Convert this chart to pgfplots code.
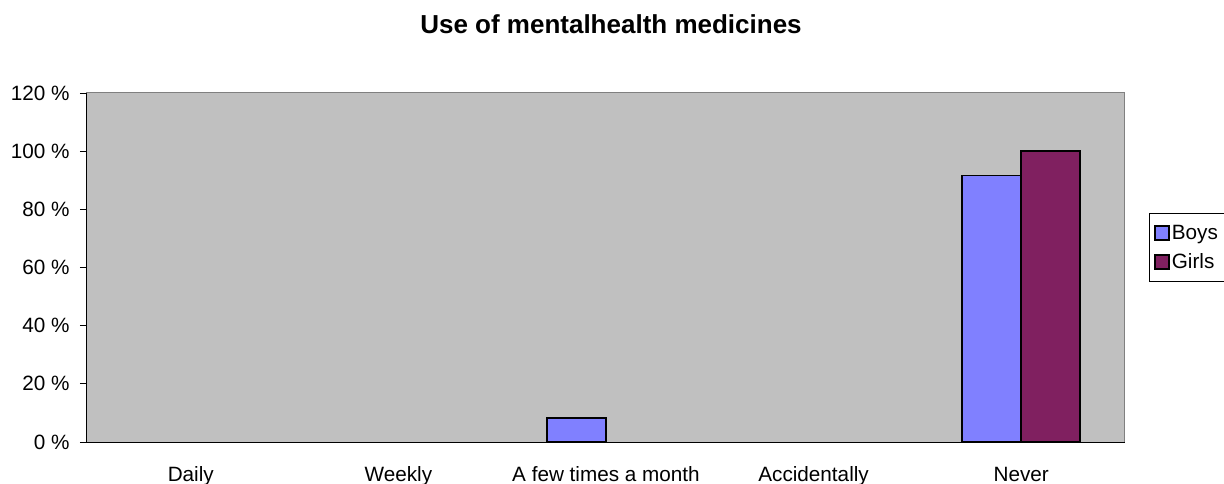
\documentclass[border=0pt]{standalone}
\usepackage{pgfplots}
\pgfplotsset{compat=1.18}
\usepackage{fontspec}
\setmainfont{Liberation Sans}
\definecolor{plotbg}{RGB}{192,192,192}
\definecolor{frame}{RGB}{128,128,128}
\definecolor{boys}{RGB}{128,128,255}
\definecolor{girls}{RGB}{128,32,96}
\begin{document}
\begin{tikzpicture}[x=1pt,y=1pt]
\useasboundingbox (0,0) rectangle (1224,483);
\node[font=\fontsize{26}{30}\selectfont\bfseries, anchor=base] at (611,449) {Use of mentalhealth medicines};
\begin{axis}[
  at={(87pt,41pt)}, anchor=south west,
  scale only axis, width=1038pt, height=349pt,
  xmin=-0.5, xmax=4.5, ymin=0, ymax=120,
  ybar=0pt, bar width=59pt,
  axis background/.style={fill=plotbg, draw=frame, line width=1pt},
  axis lines*=left,
  axis line style={black, line width=1pt, -},
  xtick={0,1,2,3,4},
  xticklabels={Daily,Weekly,A few times a month,Accidentally,Never},
  major x tick style={draw=none},
  extra x ticks={-0.5,0.5,1.5,2.5,3.5,4.5},
  extra x tick labels={},
  extra x tick style={major tick length=8pt, tick align=outside, tick style={black, line width=0.8pt}},
  xticklabel style={anchor=base, yshift=-32pt},
  ytick={0,20,40,60,80,100,120},
  yticklabel={\pgfmathprintnumber{\tick}\ \%},
  yticklabel style={xshift=-7pt},
  y tick style={black, line width=0.8pt},
  tick align=outside, major tick length=7pt,
  ticklabel style={font=\fontsize{20.7}{24}\selectfont},
  /pgf/number format/assume math mode=true,
  legend style={at={(1.0231,0.656)}, anchor=north west, draw=black, line width=0.8pt,
    font=\fontsize{20.7}{24}\selectfont, row sep=9pt, inner xsep=5pt, inner ysep=9.5pt},
  legend cell align=left,
  legend image code/.code={\draw[#1, line width=1.5pt] (0pt,-7pt) rectangle (14pt,7pt);},
]
\addplot[fill=boys, draw=black, line width=1.5pt] coordinates {(2,8.33) (4,91.67)};
\addplot[fill=girls, draw=black, line width=1.5pt] coordinates {(4,100)};
\legend{Boys,Girls}
\end{axis}
\end{tikzpicture}
\end{document}
